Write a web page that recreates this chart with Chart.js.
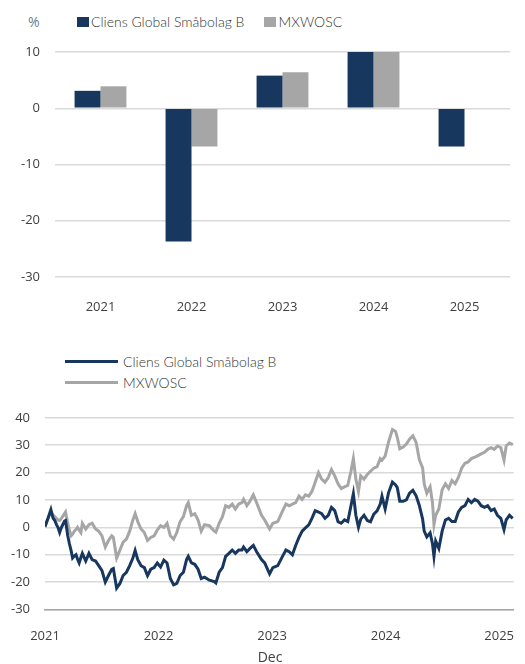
<!DOCTYPE html>
<html>
<head>
<meta charset="utf-8">
<script src="https://cdn.jsdelivr.net/npm/chart.js@4.4.1/dist/chart.umd.min.js"></script>
<style>
  body { margin: 0; width: 525px; height: 664px; position: relative; background: #fff; overflow: hidden; }
  .abs { position: absolute; }
  .legtxt { font-family: Lato, "Open Sans", sans-serif; font-size: 14px; font-weight: 300; color: #333; }
  #pct { left: 28px; top: 12px; font-family: "Open Sans", sans-serif; font-size: 14px; color: #6a7e98; }
  #legBar { left: 77px; top: 13px; display: flex; align-items: center; }
  #legBar .item { display: flex; align-items: center; margin-right: 20px; }
  #legBar .sw { width: 12px; height: 10px; margin-right: 2px; }
  #legLine { left: 65px; top: 351px; }
  #legLine .item { display: flex; align-items: center; height: 21px; }
  #legLine .sw { width: 53px; height: 2.5px; margin-right: 5px; }
  #dec { left: 250px; top: 647px; width: 40px; text-align: center; font-family: "Open Sans", sans-serif; font-size: 14px; color: #404040; }
</style>
</head>
<body>
<div id="pct" class="abs">%</div>
<div id="legBar" class="abs legtxt"></div>
<div class="abs" style="left:0;top:0;width:525px;height:320px"><canvas id="bar"></canvas></div>
<div id="legLine" class="abs legtxt"></div>
<div class="abs" style="left:0;top:395px;width:525px;height:269px"><canvas id="line"></canvas></div>
<div id="dec" class="abs">Dec</div>
<script>
var NAVY = '#17375e';
var GREY = '#a6a6a6';
var seriesNames = ['Cliens Global Småbolag B', 'MXWOSC'];

// yearly returns, %
var barYears = ['2021', '2022', '2023', '2024', '2025'];
var fundReturns = [3.1, -23.7, 5.8, 10.0, -6.8];
var indexReturns = [3.9, -6.8, 6.4, 10.0, null];

// cumulative return, %, t = years since Dec 2021
var tickYears = ['2021', '2022', '2023', '2024', '2025'];
var t = [0.000, 0.028, 0.052, 0.071, 0.086, 0.101, 0.114, 0.129, 0.144, 0.172, 0.181, 0.200, 0.215, 0.230, 0.243, 0.258, 0.273, 0.286, 0.301, 0.316,
  0.329, 0.359, 0.387, 0.415, 0.445, 0.473, 0.502, 0.531, 0.559, 0.588, 0.602, 0.631, 0.660, 0.688, 0.717, 0.746, 0.774, 0.794, 0.817, 0.846,
  0.875, 0.903, 0.932, 0.961, 0.989, 1.018, 1.047, 1.075, 1.104, 1.133, 1.161, 1.190, 1.219, 1.247, 1.262, 1.290, 1.319, 1.348, 1.376, 1.405,
  1.448, 1.491, 1.505, 1.534, 1.563, 1.591, 1.620, 1.649, 1.677, 1.706, 1.735, 1.749, 1.778, 1.806, 1.835, 1.864, 1.907, 1.935, 1.978, 2.007,
  2.050, 2.093, 2.122, 2.151, 2.179, 2.208, 2.237, 2.265, 2.294, 2.323, 2.351, 2.380, 2.409, 2.437, 2.466, 2.495, 2.523, 2.552, 2.581, 2.609,
  2.638, 2.667, 2.695, 2.716, 2.738, 2.761, 2.781, 2.810, 2.839, 2.867, 2.896, 2.925, 2.953, 2.968, 2.996, 3.025, 3.060, 3.088, 3.103, 3.125,
  3.154, 3.183, 3.211, 3.240, 3.269, 3.297, 3.326, 3.340, 3.363, 3.392, 3.413, 3.426, 3.441, 3.469, 3.498, 3.527, 3.555, 3.584, 3.613, 3.641,
  3.670, 3.699, 3.727, 3.756, 3.785, 3.813, 3.842, 3.871, 3.899, 3.929, 3.957, 3.985, 4.015, 4.043, 4.062, 4.091, 4.120];
var fund = [0.3, 3.5, 6.5, 3.4, 2.5, 1.0, 0.0, -1.9, -0.1, 2.3, 2.5, -3.0, -6.0, -8.5, -11.2, -10.5, -10.0, -11.5, -13.0, -11.0,
  -9.5, -12.3, -9.5, -11.8, -12.3, -14.0, -15.8, -20.0, -17.6, -15.3, -15.0, -22.2, -20.5, -17.6, -16.4, -14.0, -11.2, -8.5, -11.8, -14.0,
  -14.7, -17.6, -15.3, -14.7, -13.0, -14.5, -12.0, -13.0, -18.7, -21.0, -20.5, -17.6, -16.4, -11.8, -10.6, -13.0, -13.5, -15.3, -18.7, -18.2,
  -19.3, -19.8, -20.3, -16.4, -14.7, -10.6, -9.5, -8.3, -9.5, -8.3, -8.3, -7.2, -8.9, -7.7, -6.6, -8.9, -11.8, -13.0, -17.0, -14.7,
  -14.0, -10.5, -8.3, -8.9, -10.0, -6.6, -3.7, -1.4, -0.2, 0.9, 3.3, 6.1, 5.6, 5.0, 3.3, 4.4, 7.3, 6.1, 2.1, 1.5,
  2.7, 2.1, 7.9, 12.3, 4.4, 0.0, 3.0, 4.4, 2.5, 2.0, 4.8, 6.0, 8.5, 11.4, 6.7, 12.5, 16.5, 15.5, 14.5, 9.5,
  9.5, 10.0, 12.5, 13.5, 11.5, 8.0, 3.0, -1.4, -3.5, -2.0, -6.0, -10.6, -5.0, -7.7, -1.4, 2.7, 3.3, 2.1, 2.1, 5.6,
  7.3, 7.9, 10.2, 9.0, 10.2, 9.6, 7.9, 7.3, 7.9, 6.1, 6.7, 4.4, 3.3, -0.8, 2.7, 4.4, 3.3];
var index = [0.0, 3.4, 5.6, 4.5, 3.9, 3.2, 2.7, 2.5, 3.3, 5.0, 5.6, 1.5, -1.0, -3.1, -2.5, -1.4, -0.8, 0.0, -1.0, -1.9,
  1.5, -0.6, 1.0, 1.5, -0.6, -1.4, -3.1, -7.2, -4.8, -3.1, -3.7, -11.2, -8.3, -5.4, -4.3, -1.4, 2.7, 5.0, 2.1, -0.6,
  -1.9, -4.8, -3.7, -3.1, -1.0, 0.6, 0.0, 1.5, -3.1, -4.3, -1.9, 2.1, 3.9, 7.9, 9.0, 4.4, 5.0, 2.7, -1.4, 1.0,
  0.6, -1.4, -1.8, 1.5, 3.9, 7.9, 7.3, 8.5, 6.7, 8.5, 9.0, 10.2, 7.9, 9.6, 11.9, 9.0, 4.4, 2.7, -0.6, 1.5,
  2.1, 6.0, 8.5, 7.9, 8.5, 9.0, 11.4, 10.2, 11.9, 11.4, 13.1, 16.5, 20.0, 17.6, 16.5, 18.2, 21.1, 18.8, 15.9, 14.2,
  14.8, 15.3, 20.5, 25.1, 17.6, 13.1, 18.8, 17.6, 19.3, 20.5, 21.6, 22.2, 25.1, 24.5, 26.0, 31.0, 35.7, 35.0, 32.8, 28.7,
  29.3, 30.4, 32.2, 33.4, 31.0, 24.7, 21.7, 15.9, 12.5, 14.8, 9.0, 1.0, 4.4, 6.7, 13.7, 15.9, 14.2, 17.1, 15.9, 18.2,
  21.6, 23.4, 23.9, 25.1, 25.6, 26.2, 26.8, 27.4, 28.5, 29.1, 28.5, 29.7, 29.1, 24.5, 29.7, 30.8, 30.2];

var TICK_FONT = { family: '"Open Sans", sans-serif', size: 13 };
var TICK_COLOR = '#404040';
var GRID = '#d9d9d9';

function buildLegend(el, colors) {
  var html = '';
  for (var i = 0; i < seriesNames.length; i++) {
    html += '<div class="item"><span class="sw" style="background:' + colors[i] + '"></span>' + seriesNames[i] + '</div>';
  }
  document.getElementById(el).innerHTML = html;
}
buildLegend('legBar', [NAVY, GREY]);
buildLegend('legLine', [NAVY, GREY]);

new Chart(document.getElementById('bar'), {
  type: 'bar',
  data: {
    labels: barYears,
    datasets: [
      { label: seriesNames[0], data: fundReturns, backgroundColor: NAVY },
      { label: seriesNames[1], data: indexReturns, backgroundColor: GREY }
    ]
  },
  options: {
    responsive: true,
    maintainAspectRatio: false,
    animation: false,
    layout: { padding: { top: 52, right: 15, left: 0, bottom: 0 } },
    categoryPercentage: 0.57,
    barPercentage: 1,
    plugins: { legend: { display: false }, tooltip: { enabled: false } },
    scales: {
      x: {
        grid: { display: false },
        border: { display: false },
        ticks: { font: TICK_FONT, color: TICK_COLOR, padding: 14 },
        afterFit: function (a) { a.height = 43; }
      },
      y: {
        min: -30, max: 10,
        ticks: { stepSize: 10, font: TICK_FONT, color: TICK_COLOR, padding: 15 },
        grid: { color: GRID, lineWidth: 1.5, drawTicks: false },
        border: { display: false },
        afterFit: function (a) { a.width = 55; }
      }
    }
  }
});

function points(vals) {
  return vals.map(function (v, i) { return { x: t[i], y: v }; });
}

new Chart(document.getElementById('line'), {
  type: 'line',
  data: {
    datasets: [
      { label: seriesNames[0], data: points(fund), borderColor: NAVY, borderWidth: 3, pointRadius: 0, tension: 0 },
      { label: seriesNames[1], data: points(index), borderColor: GREY, borderWidth: 3, pointRadius: 0, tension: 0 }
    ]
  },
  options: {
    responsive: true,
    maintainAspectRatio: false,
    animation: false,
    layout: { padding: { top: 12, right: 0, left: 0, bottom: 0 } },
    plugins: { legend: { display: false }, tooltip: { enabled: false } },
    scales: {
      x: {
        type: 'linear',
        min: 0, max: 4.129,
        grid: { display: false },
        border: { display: true, color: '#a6a6a6', width: 1.5 },
        ticks: {
          stepSize: 1, includeBounds: false, font: TICK_FONT, color: TICK_COLOR, padding: 11, maxRotation: 0,
          callback: function (v) { return Number.isInteger(v) ? tickYears[v] : ''; }
        },
        afterFit: function (a) { a.height = 54.5; }
      },
      y: {
        min: -30, max: 40,
        ticks: { stepSize: 10, font: TICK_FONT, color: TICK_COLOR, padding: 15 },
        grid: { color: GRID, lineWidth: 1.5, drawTicks: false },
        border: { display: false },
        afterFit: function (a) { a.width = 45; }
      }
    }
  }
});
</script>
</body>
</html>
